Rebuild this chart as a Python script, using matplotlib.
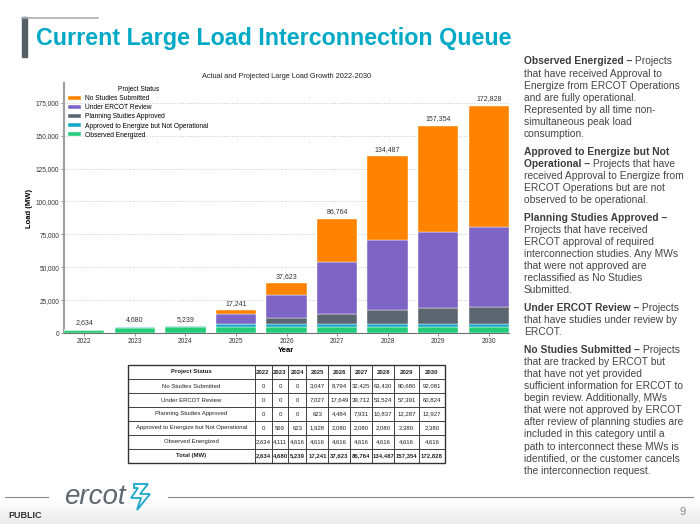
import matplotlib
matplotlib.use('Agg')
import matplotlib.pyplot as plt
import numpy as np
from matplotlib.patches import Rectangle, Polygon
from matplotlib.colors import LinearSegmentedColormap

# data (MW)
years = ['2022', '2023', '2024', '2025', '2026', '2027', '2028', '2029', '2030']
observed_energized = [2634, 4111, 4616, 4616, 4616, 4616, 4616, 4616, 4616]
approved_not_operational = [0, 569, 623, 1928, 2080, 2080, 2080, 2380, 2380]
planning_approved = [0, 0, 0, 623, 4484, 7931, 10837, 12287, 12927]
under_review = [0, 0, 0, 7027, 17649, 39712, 53524, 57391, 60824]
no_studies = [0, 0, 0, 3047, 8794, 32425, 63430, 80680, 92081]

status_names = ['Observed Energized', 'Approved to Energize but Not Operational',
                'Planning Studies Approved', 'Under ERCOT Review', 'No Studies Submitted']
status_values = [observed_energized, approved_not_operational, planning_approved,
                 under_review, no_studies]
status_colors = ['#22cc78', '#13a8c8', '#5b6670', '#7e64c5', '#ff8300']

yticks = [0, 25000, 50000, 75000, 100000, 125000, 150000, 175000]

# right hand notes: (bold part, regular part) per line, one list per paragraph
notes = [
    [('Observed Energized \u2013', ' Projects'), ('', 'that have received Approval to'),
     ('', 'Energize from ERCOT Operations'), ('', 'and are fully operational.'),
     ('', 'Represented by all time non-'), ('', 'simultaneous peak load'), ('', 'consumption.')],
    [('Approved to Energize but Not', ''), ('Operational \u2013', ' Projects that have'),
     ('', 'received Approval to Energize from'), ('', 'ERCOT Operations but are not'),
     ('', 'observed to be operational.')],
    [('Planning Studies Approved \u2013', ''), ('', 'Projects that have received'),
     ('', 'ERCOT approval of required'), ('', 'interconnection studies. Any MWs'),
     ('', 'that were not approved are'), ('', 'reclassified as No Studies'), ('', 'Submitted.')],
    [('Under ERCOT Review \u2013', ' Projects'), ('', 'that have studies under review by'),
     ('', 'ERCOT.')],
    [('No Studies Submitted \u2013', ' Projects'), ('', 'that are tracked by ERCOT but'),
     ('', 'that have not yet provided'), ('', 'sufficient information for ERCOT to'),
     ('', 'begin review. Additionally, MWs'), ('', 'that were not approved by ERCOT'),
     ('', 'after review of planning studies are'), ('', 'included in this category until a'),
     ('', 'path to interconnect these MWs is'), ('', 'identified, or the customer cancels'),
     ('', 'the interconnection request.')],
]

plt.rcParams['font.family'] = ['Liberation Sans', 'DejaVu Sans']

fig = plt.figure(figsize=(7, 5.24), dpi=100)

# slide background in pixel coords
bg = fig.add_axes([0, 0, 1, 1], zorder=0)
grad = LinearSegmentedColormap.from_list('g', ['#ffffff', '#ebebeb'])
bg.imshow(np.linspace(0, 1, 60).reshape(-1, 1), extent=[0, 700, 524, 498], cmap=grad, aspect='auto')
bg.set_xlim(0, 700)
bg.set_ylim(524, 0)
bg.axis('off')

# title block
bg.add_patch(Rectangle((22, 17), 4.5, 40, color='#555f67'))
bg.plot([22, 98], [17.5, 17.5], color='#a9b0b5', lw=1.2)
title = bg.text(36, 39, 'Current Large Load Interconnection Queue', fontsize=17, fontweight='bold',
                color='#00a9c6', va='center')
fig.canvas.draw()
title.set_fontsize(17 * 477 / title.get_window_extent().width)

# chart
ax = fig.add_axes([64 / 700, 1 - 333 / 524, 445 / 700, 250 / 524], zorder=2)
ax.patch.set_alpha(0)
x = np.arange(len(years))
bottom = np.zeros(len(years))
for name, vals, c in zip(status_names, status_values, status_colors):
    ax.bar(x, vals, 0.8, bottom=bottom, color=c, edgecolor='white', linewidth=0.3, label=name, zorder=3)
    bottom = bottom + np.array(vals)
for xi, tot in zip(x, bottom):
    ax.annotate(f'{int(tot):,}', (xi, tot), xytext=(0, 2.5), textcoords='offset points',
                ha='center', va='bottom', fontsize=5, color='#333333')

ax.set_xlim(-0.4, 8.4)
ax.set_ylim(0, 190000)
ax.set_xticks(x, years)
ax.set_yticks(yticks, [f'{v:,}' for v in yticks])
ax.grid(axis='y', linestyle=':', color='#c8c8c8', lw=0.7, zorder=0)
for s in ['top', 'right']:
    ax.spines[s].set_visible(False)
ax.spines['left'].set_color('#a0a0a0')
ax.spines['left'].set_linewidth(1.6)
ax.spines['bottom'].set_color('#707070')
ax.spines['bottom'].set_linewidth(0.8)
ax.tick_params(length=2, width=0.5, colors='#666666', labelsize=4.7, labelcolor='#333333', pad=1.5)
ax.set_xlabel('Year', fontsize=5.5, fontweight='bold')
ax.xaxis.set_label_coords(0.5, -0.058)
ax.set_ylabel('Load (MW)', fontsize=5.5, fontweight='bold')
ax.yaxis.set_label_coords(-0.07, 0.5)

handles, labels = ax.get_legend_handles_labels()
leg = ax.legend(handles[::-1], labels[::-1], title='Project Status', loc='upper left',
                bbox_to_anchor=(4 / 445, 1 - 3 / 250), frameon=False, fontsize=4.8,
                title_fontsize=4.8, handlelength=2.0, handleheight=0.6, handletextpad=0.6,
                labelspacing=0.32, borderpad=0, borderaxespad=0)

bg.text(287, 77, 'Actual and Projected Large Load Growth 2022-2030', fontsize=5.3,
        ha='center', va='center', color='#222222')

# table under chart
tax = fig.add_axes([128 / 700, 1 - 463 / 524, 317 / 700, 98 / 524], zorder=2)
tax.axis('off')
table_rows = [[status_names[i]] + [f'{v:,}' for v in status_values[i]] for i in range(4, -1, -1)]
table_rows.append(['Total (MW)'] + [f'{int(v):,}' for v in bottom])
col_px = [127, 17, 17, 18, 22, 22, 22, 22, 25, 26]
tbl = tax.table(cellText=table_rows, colLabels=['Project Status'] + years,
                colWidths=[c / sum(col_px) for c in col_px], cellLoc='center', bbox=[0, 0, 1, 1])
tbl.auto_set_font_size(False)
for (r, c), cell in tbl.get_celld().items():
    cell.set_edgecolor('#333333')
    cell.set_linewidth(0.6)
    cell.PAD = 0.02
    cell.get_text().set_fontsize(4.3)
    cell.get_text().set_color('#222222')
    if r == 0 or r == len(table_rows):
        cell.get_text().set_fontweight('bold')
tax.add_patch(Rectangle((0, 0), 1, 1, transform=tax.transAxes, fill=False, lw=1.0,
                        edgecolor='#333333', zorder=5, clip_on=False))

# notes on the right
y = 64.5
for para in notes:
    for bold, reg in para:
        if bold:
            bt = bg.text(524, y, bold, fontsize=7.4, fontweight='bold', color='#3d3d3d', va='baseline')
            if reg:
                bg.annotate(reg, xy=(1, 0), xycoords=bt, ha='left', va='bottom',
                            fontsize=7.4, color='#454545')
        else:
            bg.text(524, y, reg, fontsize=7.4, color='#454545', va='baseline')
        y += 12.1
    y += 5.5

# footer
bg.plot([5, 48], [497, 497], color='#8a8a8a', lw=0.8)
bg.plot([168, 693], [497, 497], color='#8a8a8a', lw=0.8)
bg.text(64, 497, 'ercot', fontsize=20, style='italic', color='#5f6870', va='center')
bg.add_patch(Polygon([(134, 484), (148, 484), (140, 494), (150, 494), (137, 510), (141, 498),
                      (131, 498), (138, 488), (134, 488)], closed=True, fill=False,
                     edgecolor='#1aa9c9', lw=1.3))
bg.text(8, 515, 'PUBLIC', fontsize=6.5, fontweight='bold', color='#333333', va='center')
bg.text(679, 512, '9', fontsize=8, color='#888888', va='center')

fig.savefig('out.png', dpi=100)
